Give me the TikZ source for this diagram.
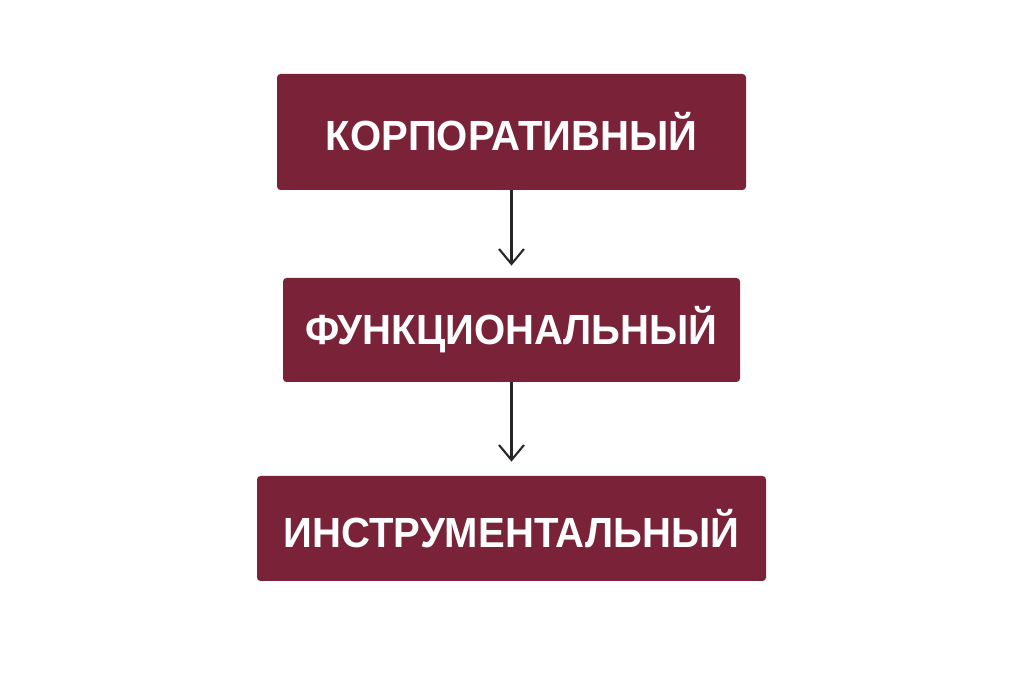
\documentclass[tikz,border=0pt]{standalone}
\usepackage{fontspec}
\setmainfont{Liberation Sans}[FakeStretch=0.95]
\usetikzlibrary{arrows.meta}
\definecolor{boxred}{HTML}{7A2238}
\definecolor{arrowgray}{HTML}{262626}
\tikzset{
  level/.style={fill=boxred, rounded corners=0.07cm, text=white,
    font=\fontsize{24}{29}\selectfont\bfseries, inner sep=0pt},
  link/.style={draw=arrowgray, line width=1.2pt,
    -{Straight Barb[length=0.3cm,width=0.5cm,line width=1.2pt]}}
}
\begin{document}
\begin{tikzpicture}
      \useasboundingbox[fill=white] (0,0) rectangle (20.48,-13.66);
      \draw
        (10.23,-2.64) node[level, minimum width=9.38cm, minimum height=2.32cm] (corp){КОРПОРАТИВНЫЙ}
        (10.23,-6.60) node[level, minimum width=9.14cm, minimum height=2.08cm] (func){ФУНКЦИОНАЛЬНЫЙ}
        (10.23,-10.57) node[level, minimum width=10.18cm, minimum height=2.10cm] (instr){ИНСТРУМЕНТАЛЬНЫЙ};
      \begin{scope}[link]
        \draw[shorten >=0.24cm] (corp) to (func);
        \draw[shorten >=0.28cm] (func) to (instr);
      \end{scope}
    \end{tikzpicture}
\end{document}
